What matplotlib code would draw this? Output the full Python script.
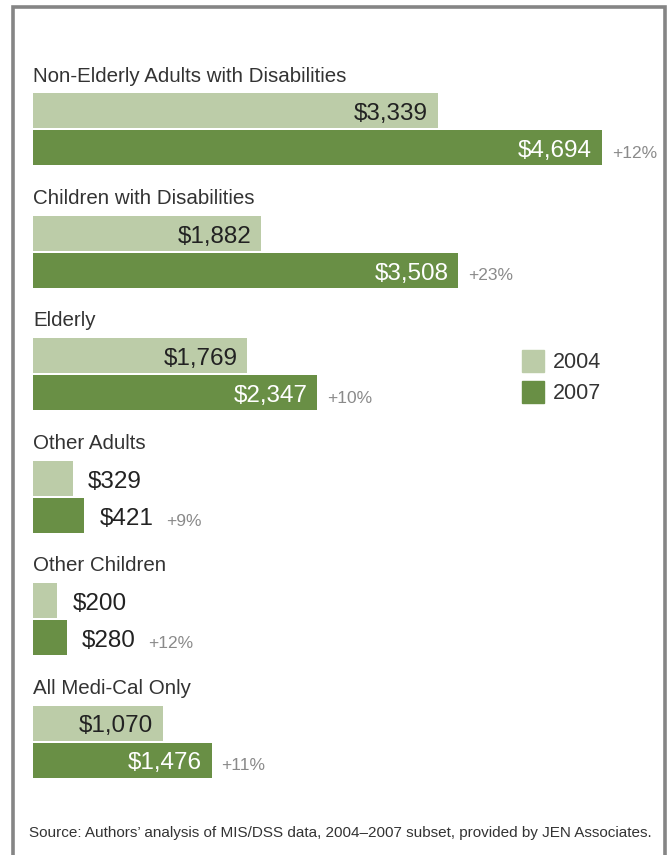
import matplotlib.pyplot as plt
from matplotlib.patches import Rectangle
from matplotlib import font_manager

# spending per beneficiary by group, 2004 vs 2007
groups = ["Non-Elderly Adults with Disabilities", "Children with Disabilities",
          "Elderly", "Other Adults", "Other Children", "All Medi-Cal Only"]
spend_2004 = [3339, 1882, 1769, 329, 200, 1070]
spend_2007 = [4694, 3508, 2347, 421, 280, 1476]
pct_change = ["+12%", "+23%", "+10%", "+9%", "+12%", "+11%"]
years = ["2004", "2007"]

light = "#bccca8"
dark = "#698f45"

names = {f.name for f in font_manager.fontManager.ttflist}
main_font = "Liberation Sans" if "Liberation Sans" in names else "DejaVu Sans"
narrow_font = "Liberation Sans Narrow" if "Liberation Sans Narrow" in names else main_font
plt.rcParams['font.family'] = [main_font, 'DejaVu Sans']

W, H = 670, 855
fig = plt.figure(figsize=(W / 100, H / 100), dpi=100)

# one axes over the whole figure: x in dollars, y in pixel rows
px_per_dollar = 0.1212
x0 = 33
ax = fig.add_axes([0, 0, 1, 1])
ax.set_xlim(-x0 / px_per_dollar, (W - x0) / px_per_dollar)
ax.set_ylim(H, 0)
ax.axis('off')

# frame around the chart
fig.add_artist(Rectangle((13 / W, -0.05), (665 - 13) / W, 1.05 - 7 / H,
                         transform=fig.transFigure, fill=False,
                         edgecolor="#858585", linewidth=2.6))

step = 122.4
bar_h = 35
for i, g in enumerate(groups):
    top = 76 + step * i
    y04 = 111 + step * i
    y07 = 148 + step * i
    ax.text(0, top, g, ha='left', va='center', fontsize=14.8, color="#333333")
    ax.barh(y04, spend_2004[i], height=bar_h, color=light, left=0)
    ax.barh(y07, spend_2007[i], height=bar_h, color=dark, left=0)

    # value labels inside long bars, outside short ones
    lab04 = f"${spend_2004[i]:,}"
    lab07 = f"${spend_2007[i]:,}"
    if spend_2004[i] > 800:
        ax.annotate(lab04, (spend_2004[i], y04), xytext=(-7, -2.5), textcoords='offset points',
                    ha='right', va='center', fontsize=17.5, color="#222222")
    else:
        ax.annotate(lab04, (spend_2004[i], y04), xytext=(11, -2.5), textcoords='offset points',
                    ha='left', va='center', fontsize=17.5, color="#222222")
    if spend_2007[i] > 800:
        ax.annotate(lab07, (spend_2007[i], y07), xytext=(-7, -2.5), textcoords='offset points',
                    ha='right', va='center', fontsize=17.5, color="white")
        ax.annotate(pct_change[i], (spend_2007[i], y07), xytext=(7, -4), textcoords='offset points',
                    ha='left', va='center', fontsize=12.5, color="#8a8a8a")
    else:
        t = ax.annotate(lab07, (spend_2007[i], y07), xytext=(11, -2.5), textcoords='offset points',
                        ha='left', va='center', fontsize=17.5, color="#222222")
        ax.annotate(pct_change[i], (1, 0.5), xycoords=t, xytext=(9, -2), textcoords='offset points',
                    ha='left', va='center', fontsize=12.5, color="#8a8a8a")

# legend
leg_x = 522 / W
for k, (yr, c) in enumerate(zip(years, [light, dark])):
    ytop = 350 + 31 * k
    fig.add_artist(Rectangle((leg_x, 1 - (ytop + 22) / H), 22 / W, 22 / H,
                             transform=fig.transFigure, color=c))
    fig.text(553 / W, 1 - (ytop + 12) / H, yr, ha='left', va='center',
             fontsize=15.5, color="#333333")

fig.text(340 / W, 1 - 833 / H,
         "Source: Authors\u2019 analysis of MIS/DSS data, 2004\u20132007 subset, provided by JEN Associates.",
         ha='center', va='center', fontsize=11, color="#333333", family=[narrow_font, 'DejaVu Sans'])

fig.savefig("out.png", dpi=100)
